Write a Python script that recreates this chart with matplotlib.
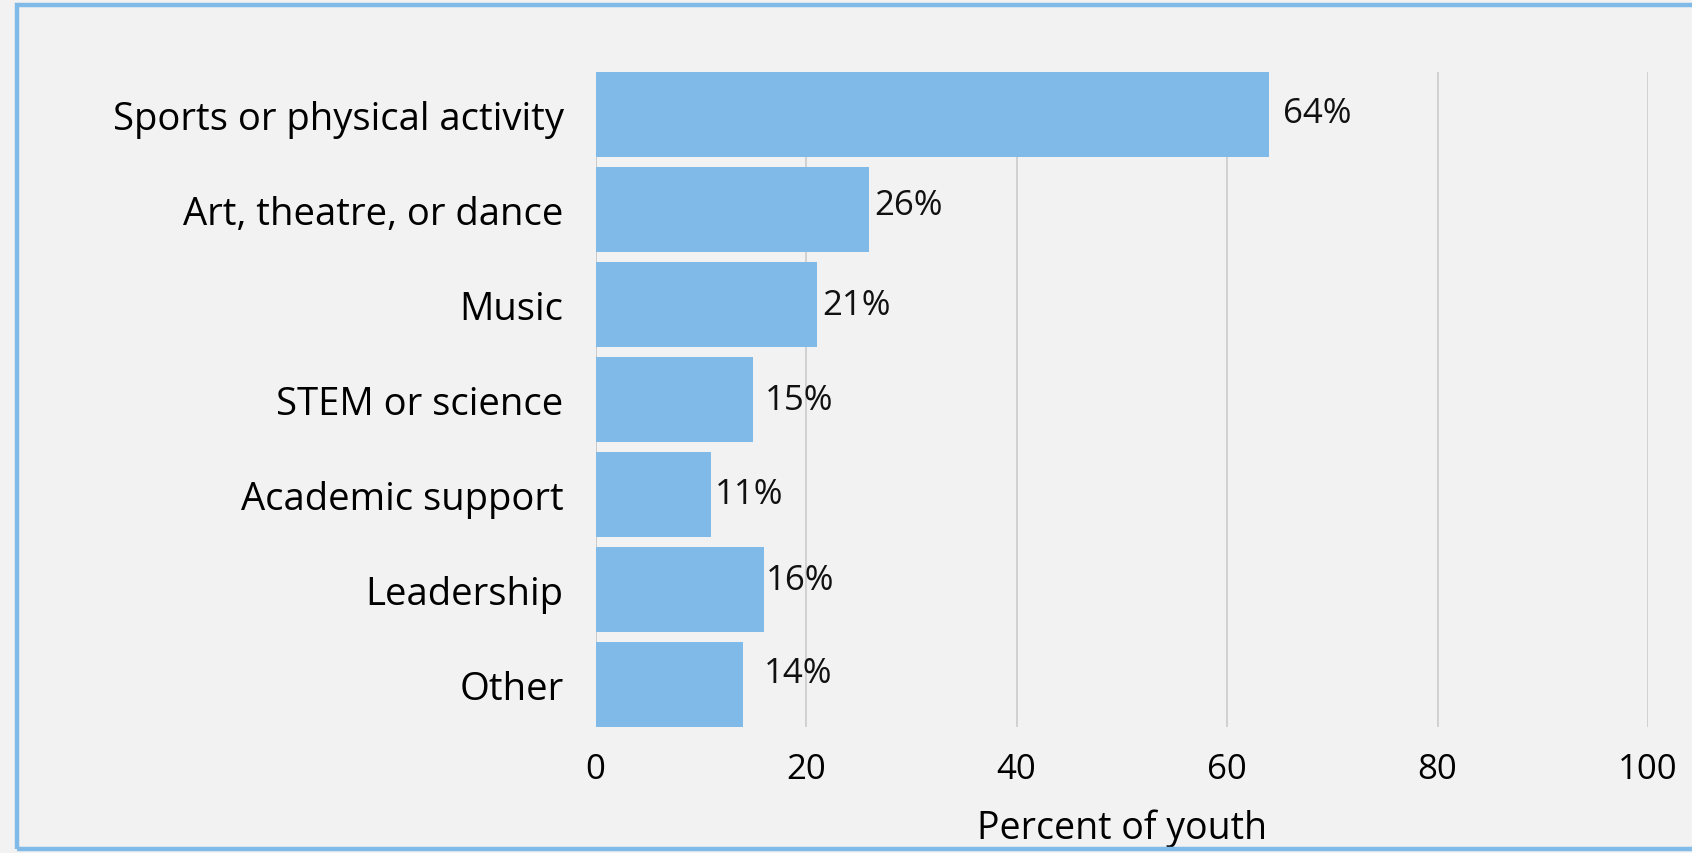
import matplotlib
matplotlib.use("Agg")
from matplotlib import pyplot as plt
from matplotlib.patches import Rectangle

# activity categories and percent of youth taking part
activities = ['Sports or physical activity', 'Art, theatre, or dance', 'Music',
              'STEM or science', 'Academic support', 'Leadership', 'Other']
percents = [64, 26, 21, 15, 11, 16, 14]
value_labels = ['64%', '26%', '21%', '15%', '11%', '16%', '14%']
x_ticks = [0, 20, 40, 60, 80, 100]

# label nudges (x in data units, y in bar units) to mimic the original placement
label_dx = [1.3, 0.5, 0.5, 1.1, 0.3, 0.2, 2.0]
label_dy = [-0.02, -0.05, 0.0, 0.0, 0.0, -0.1, -0.12]

bar_color = '#7fbae8'
bg = '#f2f2f2'

plt.rcParams['font.family'] = ['Open Sans', 'DejaVu Sans']

fig = plt.figure(figsize=(16.92, 8.54), dpi=100, facecolor=bg)
ax = fig.add_axes([0.352, 0.1475, 0.622, 0.767])
ax.set_facecolor(bg)

ypos = list(range(len(activities)))
ax.barh(ypos, percents, height=0.89, color=bar_color, zorder=2)

for y, v, lab, dx, dy in zip(ypos, percents, value_labels, label_dx, label_dy):
    ax.text(v + dx, y + dy, lab, va='center', ha='left', fontsize=25, color='#111111')

ax.set_xlim(0, 100)
ax.set_ylim(len(activities) - 0.55, -0.45)
ax.set_xticks(x_ticks)
ax.set_yticks(ypos)
ax.set_yticklabels(activities, fontsize=27.5)
ax.tick_params(axis='x', labelsize=25, length=0, pad=18)
ax.tick_params(axis='y', length=0, pad=23)
ax.grid(axis='x', color='#c8c8c8', linewidth=1.1, zorder=0)
for s in ax.spines.values():
    s.set_visible(False)
ax.axvline(0, color='#c8c8c8', linewidth=1.1, zorder=1)

ax.set_xlabel('Percent of youth', fontsize=27, labelpad=16)

# panel border
fig.patches.append(Rectangle((17 / 1692, 4 / 854), 1.2, 1 - 10 / 854,
                             transform=fig.transFigure, fill=False,
                             edgecolor='#7fbae8', linewidth=3.2, zorder=10))

fig.savefig('out.png', dpi=100, facecolor=bg)
